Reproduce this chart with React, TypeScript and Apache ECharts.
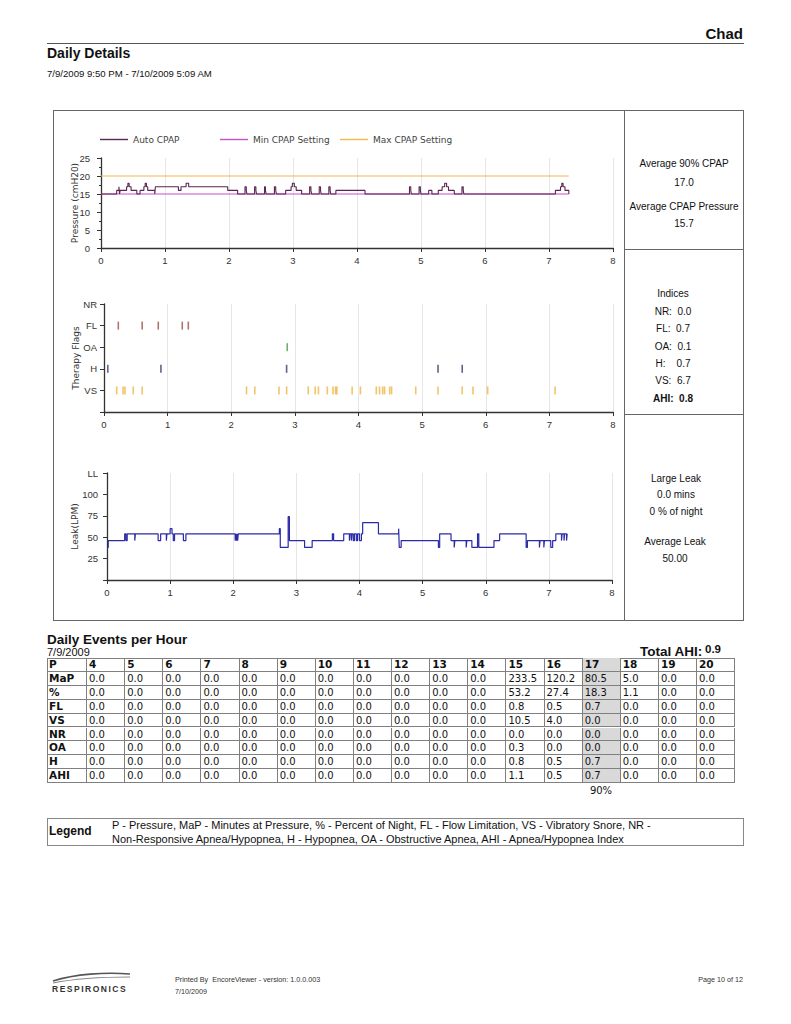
import React, { useEffect, useRef } from "react";
import * as echarts from "echarts";

// ---------- DATA ----------
const hourTicks = [0, 1, 2, 3, 4, 5, 6, 7, 8];

const autoCpap: [number, number][] = [
  [0, 15], [0.245, 16], [0.28, 17], [0.29, 15], [0.3, 16], [0.4, 17], [0.42, 18], [0.44, 17], [0.47, 16], [0.56, 15],
  [0.61, 16], [0.67, 17], [0.69, 18], [0.71, 17], [0.73, 16], [0.84, 15], [0.85, 17], [1.21, 16], [1.25, 17], [1.33, 18],
  [1.37, 17], [1.98, 16], [2.135, 15], [2.25, 17], [2.27, 16], [2.28, 15], [2.4, 17], [2.42, 16], [2.43, 15], [2.555, 17],
  [2.57, 16], [2.58, 15], [2.71, 17], [2.73, 16], [2.74, 15], [2.885, 16], [2.97, 17], [2.99, 18], [3.02, 17], [3.05, 16],
  [3.135, 15], [3.26, 17], [3.28, 16], [3.29, 15], [3.41, 17], [3.43, 16], [3.44, 15], [3.56, 17], [3.58, 16], [3.59, 15],
  [3.67, 16], [4.125, 15], [4.82, 17], [4.84, 16], [4.85, 15], [4.97, 17], [4.99, 16], [5.0, 15], [5.12, 16], [5.17, 15],
  [5.27, 16], [5.33, 17], [5.37, 18], [5.4, 17], [5.43, 16], [5.52, 15], [5.64, 17], [5.66, 16], [5.67, 15], [7.1, 16],
  [7.18, 17], [7.2, 18], [7.22, 17], [7.25, 16], [7.31, 15],
];
const minCpap: [number, number][] = [[0, 15], [7.31, 15]];
const maxCpap: [number, number][] = [[0, 20], [7.31, 20]];

const flagLabels = ["", "VS", "H", "OA", "FL", "NR"];
const flFlags = [0.225, 0.6, 0.853, 1.23, 1.325];
const oaFlags = [2.88];
const hFlags = [0.06, 0.895, 2.87, 5.25, 5.63];
const nrFlags: number[] = [];
const vsFlags = [
  0.2, 0.3, 0.33, 0.46, 0.6, 2.24, 2.37, 2.75, 2.87, 3.21, 3.32, 3.37, 3.51, 3.6, 3.64, 3.66, 3.9, 4.03,
  4.28, 4.33, 4.38, 4.41, 4.49, 4.52, 4.9, 5.25, 5.63, 5.8, 6.03, 7.09,
];

const leak: [number, number][] = [
  [0, 38], [0.02, 46], [0.28, 54], [0.3, 46], [0.32, 54], [0.44, 46], [0.45, 54], [0.81, 46], [0.85, 54], [0.94, 46],
  [0.95, 54], [1.0, 60], [1.03, 54], [1.05, 46], [1.07, 54], [1.21, 46], [1.25, 54], [2.03, 46], [2.04, 54], [2.05, 46],
  [2.06, 54], [2.07, 46], [2.08, 54], [2.73, 60], [2.745, 38], [2.87, 74], [2.89, 46], [3.13, 38], [3.25, 46], [3.57, 54],
  [3.59, 46], [3.75, 54], [3.84, 46], [3.85, 54], [3.87, 46], [3.88, 54], [3.9, 46], [3.92, 54], [3.95, 46], [3.97, 54],
  [4.0, 46], [4.03, 54], [4.05, 67], [4.3, 54], [4.62, 60], [4.63, 38], [4.66, 46], [5.25, 38], [5.27, 54], [5.45, 46],
  [5.5, 38], [5.51, 46], [5.69, 38], [5.7, 46], [5.78, 38], [5.87, 54], [5.89, 38], [6.13, 46], [6.22, 54], [6.64, 38],
  [6.66, 46], [6.85, 38], [6.86, 46], [6.92, 38], [6.93, 46], [7.03, 38], [7.06, 46], [7.11, 54], [7.2, 46], [7.21, 54],
  [7.24, 46], [7.25, 54], [7.28, 46], [7.29, 54], [7.3, 54],
];

const tablePressures = [4, 5, 6, 7, 8, 9, 10, 11, 12, 13, 14, 15, 16, 17, 18, 19, 20];
const tableRowNames = ["MaP", "%", "FL", "VS", "NR", "OA", "H", "AHI"];
const mapRow = [0, 0, 0, 0, 0, 0, 0, 0, 0, 0, 0, 233.5, 120.2, 80.5, 5.0, 0, 0];
const pctRow = [0, 0, 0, 0, 0, 0, 0, 0, 0, 0, 0, 53.2, 27.4, 18.3, 1.1, 0, 0];
const flRow = [0, 0, 0, 0, 0, 0, 0, 0, 0, 0, 0, 0.8, 0.5, 0.7, 0, 0, 0];
const vsRow = [0, 0, 0, 0, 0, 0, 0, 0, 0, 0, 0, 10.5, 4.0, 0, 0, 0, 0];
const nrRow = [0, 0, 0, 0, 0, 0, 0, 0, 0, 0, 0, 0, 0, 0, 0, 0, 0];
const oaRow = [0, 0, 0, 0, 0, 0, 0, 0, 0, 0, 0, 0.3, 0, 0, 0, 0, 0];
const hRow = [0, 0, 0, 0, 0, 0, 0, 0, 0, 0, 0, 0.8, 0.5, 0.7, 0, 0, 0];
const ahiRow = [0, 0, 0, 0, 0, 0, 0, 0, 0, 0, 0, 1.1, 0.5, 0.7, 0, 0, 0];
const tableRows = [mapRow, pctRow, flRow, vsRow, nrRow, oaRow, hRow, ahiRow];
const highlightPressure = 17;

// ---------- STYLE ----------
const axisFont = '"DejaVu Sans", Verdana, sans-serif';
const tickFont = '"Liberation Sans", Arial, sans-serif';
const pageFont = '"Liberation Sans", Arial, sans-serif';
const tableFont = '"DejaVu Sans", Verdana, sans-serif';

const xAxisBase = (gridIndex: number) => ({
  type: "value",
  gridIndex,
  min: hourTicks[0],
  max: hourTicks[hourTicks.length - 1],
  interval: 1,
  axisLine: { show: true, onZero: false, lineStyle: { color: "#333", width: 1.3 } },
  axisTick: { show: true, length: 4, lineStyle: { color: "#333" } },
  axisLabel: { fontSize: 9.5, color: "#333", margin: 7, fontFamily: tickFont },
  splitLine: { show: true, lineStyle: { color: "#e6e6e6" } },
});

const flagSeries = (name: string, xs: number[], level: number, color: string) => ({
  name,
  type: "scatter",
  xAxisIndex: 1,
  yAxisIndex: 1,
  symbol: "rect",
  symbolSize: [1.6, 8],
  itemStyle: { color },
  data: xs.map((x) => [x, level]),
});

const legendBase = (name: string, left: number) => ({
  data: [{ name, icon: "rect" }],
  left,
  top: 24,
  padding: 0,
  itemWidth: 28,
  itemHeight: 1.4,
  itemGap: 0,
  textStyle: { fontSize: 9, color: "#444", padding: [0, 0, 0, 0] },
});

const yName = (name: string, gap: number) => ({
  name,
  nameLocation: "middle",
  nameGap: gap,
  nameMoveOverlap: false,
  nameTextStyle: { fontSize: 9, color: "#333", fontFamily: axisFont },
});

const yLabel = (margin: number, formatter?: any) => ({
  fontSize: 9.5, color: "#333", margin, fontFamily: tickFont, ...(formatter ? { formatter } : {}),
});

const option: any = {
  animation: false,
  textStyle: { fontFamily: axisFont, color: "#333" },
  legend: [legendBase("Auto CPAP", 46), legendBase("Min CPAP Setting", 166), legendBase("Max CPAP Setting", 286)],
  grid: [
    { left: 47, top: 47, width: 512, height: 90 },
    { left: 50, top: 193, width: 509, height: 108 },
    { left: 53, top: 362, width: 505, height: 107 },
  ],
  xAxis: [xAxisBase(0), xAxisBase(1), xAxisBase(2)],
  yAxis: [
    {
      type: "value", gridIndex: 0, min: 0, max: 25, interval: 5,
      ...yName("Pressure (cmH20)", 22),
      axisLine: { show: true, lineStyle: { color: "#333", width: 1.3 } },
      axisTick: { show: true, length: 4, lineStyle: { color: "#333" } },
      minorTick: { show: true, splitNumber: 2, length: 2, lineStyle: { color: "#333" } },
      axisLabel: yLabel(11),
      splitLine: { show: false },
    },
    {
      type: "value", gridIndex: 1, min: 0, max: 5, interval: 1,
      ...yName("Therapy Flags", 24),
      axisLine: { show: true, lineStyle: { color: "#333", width: 1.3 } },
      axisTick: { show: true, length: 4, lineStyle: { color: "#333" } },
      axisLabel: yLabel(7, (v: number) => flagLabels[v] ?? ""),
      splitLine: { show: false },
    },
    {
      type: "value", gridIndex: 2, min: 0, max: 125, interval: 25,
      ...yName("Leak(LPM)", 28),
      axisLine: { show: true, lineStyle: { color: "#333", width: 1.3 } },
      axisTick: { show: true, length: 4, lineStyle: { color: "#333" } },
      axisLabel: yLabel(9, (v: number) => (v === 0 ? "" : v === 125 ? "LL" : String(v))),
      splitLine: { show: false },
    },
  ],
  series: [
    {
      name: "Max CPAP Setting", type: "line", xAxisIndex: 0, yAxisIndex: 0, symbol: "none",
      lineStyle: { color: "#f2b84b", width: 1.2 }, itemStyle: { color: "#f2b84b" }, data: maxCpap,
    },
    {
      name: "Min CPAP Setting", type: "line", xAxisIndex: 0, yAxisIndex: 0, symbol: "none",
      lineStyle: { color: "#c94ec9", width: 1.2 }, itemStyle: { color: "#c94ec9" }, data: minCpap,
    },
    {
      name: "Auto CPAP", type: "line", step: "end", xAxisIndex: 0, yAxisIndex: 0, symbol: "none",
      lineStyle: { color: "#5a2552", width: 1.1 }, itemStyle: { color: "#5a2552" }, data: autoCpap,
    },
    flagSeries("NR", nrFlags, 5, "#555555"),
    flagSeries("FL", flFlags, 4, "#a0504a"),
    flagSeries("OA", oaFlags, 3, "#4a9a4a"),
    flagSeries("H", hFlags, 2, "#3a3a66"),
    flagSeries("VS", vsFlags, 1, "#f0b445"),
    {
      name: "Leak", type: "line", step: "end", xAxisIndex: 2, yAxisIndex: 2, symbol: "none",
      lineStyle: { color: "#2b2ba8", width: 1.2 }, data: leak,
    },
  ],
};

// ---------- COMPONENTS ----------
const Txt = ({ x, y, children, size = 10, bold = false, align = "center", font = pageFont, color = "#111" }: any) => (
  <div
    style={{
      position: "absolute",
      left: x,
      top: y,
      transform: align === "center" ? "translate(-50%, -50%)" : align === "right" ? "translate(-100%, -50%)" : "translate(0, -50%)",
      fontSize: size,
      fontWeight: bold ? "bold" : "normal",
      fontFamily: font,
      color,
      whiteSpace: "pre",
      lineHeight: 1.1,
    }}
  >
    {children}
  </div>
);

const Line = ({ x, y, w, h, c = "#666" }: any) => (
  <div style={{ position: "absolute", left: x, top: y, width: w, height: h, background: c }} />
);

const fmt = (v: number) => v.toFixed(1);

const Table = () => {
  const left = 47;
  const top = 658;
  const firstW = 40;
  const colW = 38.125;
  const rowH = 13.9;
  const cells: any[] = [];
  const header = ["P", ...tablePressures.map(String)];
  const rows = [header, ...tableRows.map((r, i) => [tableRowNames[i], ...r.map(fmt)])];
  rows.forEach((row, ri) => {
    row.forEach((val, ci) => {
      const x = ci === 0 ? left : left + firstW + (ci - 1) * colW;
      const w = ci === 0 ? firstW : colW;
      const shaded = ci > 0 && tablePressures[ci - 1] === highlightPressure;
      const bold = ri === 0 || ci === 0;
      cells.push(
        <div
          key={`${ri}-${ci}`}
          style={{
            position: "absolute",
            left: x,
            top: top + ri * rowH,
            width: w,
            height: rowH,
            boxSizing: "border-box",
            borderRight: "1px solid #808080",
            borderBottom: "1px solid #808080",
            background: shaded ? "#d9d9d9" : "transparent",
            paddingLeft: 2,
            fontFamily: tableFont,
            fontSize: bold ? 10.5 : 10,
            fontWeight: bold ? "bold" : "normal",
            lineHeight: `${rowH}px`,
            color: "#111",
            whiteSpace: "nowrap",
          }}
        >
          {val}
        </div>
      );
    });
  });
  return (
    <>
      <div
        style={{
          position: "absolute",
          left,
          top,
          width: firstW + colW * tablePressures.length,
          height: rowH * rows.length,
          boxSizing: "border-box",
          borderLeft: "1px solid #808080",
          borderTop: "1px solid #808080",
        }}
      />
      {cells}
    </>
  );
};

export default function App() {
  const ref = useRef<HTMLDivElement>(null);
  useEffect(() => {
    const chart = echarts.init(ref.current!, null, { renderer: "svg" });
    chart.setOption(option);
    return () => chart.dispose();
  }, []);

  return (
    <div style={{ position: "absolute", left: 0, top: 0, width: 791, height: 1024, background: "#fff", overflow: "hidden" }}>
      {/* Header */}
      <Txt x={743} y={34} size={15} bold align="right">Chad</Txt>
      <Line x={47} y={43} w={697} h={1} c="#555" />
      <Txt x={47} y={54} size={14} bold align="left">Daily Details</Txt>
      <Txt x={47} y={74} size={9.6} align="left">7/9/2009 9:50 PM - 7/10/2009 5:09 AM</Txt>

      {/* Chart frame */}
      <div style={{ position: "absolute", left: 53, top: 110, width: 691, height: 511, border: "1px solid #666", boxSizing: "border-box" }} />
      <Line x={624} y={110} w={1} h={511} />
      <Line x={624} y={249} w={120} h={1} />
      <Line x={624} y={414} w={120} h={1} />

      <div ref={ref} style={{ position: "absolute", left: 54, top: 111, width: 569, height: 508 }} />

      {/* Right panel */}
      <Txt x={684} y={163} size={10}>Average 90% CPAP</Txt>
      <Txt x={684} y={182} size={10}>17.0</Txt>
      <Txt x={684} y={206} size={10}>Average CPAP Pressure</Txt>
      <Txt x={684} y={223} size={10}>15.7</Txt>

      <Txt x={673} y={293} size={10}>Indices</Txt>
      <Txt x={673} y={311} size={10}>{"NR:  0.0"}</Txt>
      <Txt x={673} y={328} size={10}>{"FL:  0.7"}</Txt>
      <Txt x={673} y={346} size={10}>{"OA:  0.1"}</Txt>
      <Txt x={673} y={363} size={10}>{"H:    0.7"}</Txt>
      <Txt x={673} y={380} size={10}>{"VS:  6.7"}</Txt>
      <Txt x={673} y={398} size={10} bold>{"AHI:  0.8"}</Txt>

      <Txt x={676} y={478} size={10}>Large Leak</Txt>
      <Txt x={676} y={494} size={10}>0.0 mins</Txt>
      <Txt x={676} y={511} size={10}>0 % of night</Txt>
      <Txt x={675} y={541} size={10}>Average Leak</Txt>
      <Txt x={675} y={558} size={10}>50.00</Txt>

      {/* Table section */}
      <Txt x={47} y={640} size={13.5} bold align="left">Daily Events per Hour</Txt>
      <Txt x={47} y={652} size={11} align="left">7/9/2009</Txt>
      <Txt x={640} y={652} size={13.5} bold align="left">Total AHI:</Txt>
      <Txt x={705} y={649} size={11.5} bold align="left">0.9</Txt>
      <Table />
      <Txt x={601} y={790} size={10} font={tableFont}>90%</Txt>

      {/* Legend box */}
      <div style={{ position: "absolute", left: 47, top: 818, width: 697, height: 28, border: "1px solid #888", boxSizing: "border-box" }} />
      <Txt x={49} y={832} size={12} bold align="left">Legend</Txt>
      <div
        style={{
          position: "absolute", left: 112, top: 819, fontFamily: pageFont, fontSize: 11, lineHeight: "13.5px",
          color: "#111", whiteSpace: "nowrap",
        }}
      >
        P - Pressure, MaP - Minutes at Pressure, % - Percent of Night, FL - Flow Limitation, VS - Vibratory Snore, NR -
        <br />
        Non-Responsive Apnea/Hypopnea, H - Hypopnea, OA - Obstructive Apnea, AHI - Apnea/Hypopnea Index
      </div>

      {/* Footer */}
      <svg style={{ position: "absolute", left: 50, top: 970 }} width={84} height={16}>
        <path d="M3 11 C 25 4, 55 2, 80 4" stroke="#555" strokeWidth={1.6} fill="none" />
        <path d="M3 13 C 28 8, 55 7, 80 7" stroke="#888" strokeWidth={1.2} fill="none" />
      </svg>
      <Txt x={52} y={990} size={8.5} bold align="left" color="#333">
        <span style={{ letterSpacing: 1.5 }}>RESPIRONICS</span>
      </Txt>
      <Txt x={175} y={980} size={7.2} align="left" color="#333">Printed By  EncoreViewer - version: 1.0.0.003</Txt>
      <Txt x={175} y={992} size={7.2} align="left" color="#333">7/10/2009</Txt>
      <Txt x={743} y={980} size={7.2} align="right" color="#333">Page 10 of 12</Txt>
    </div>
  );
}
